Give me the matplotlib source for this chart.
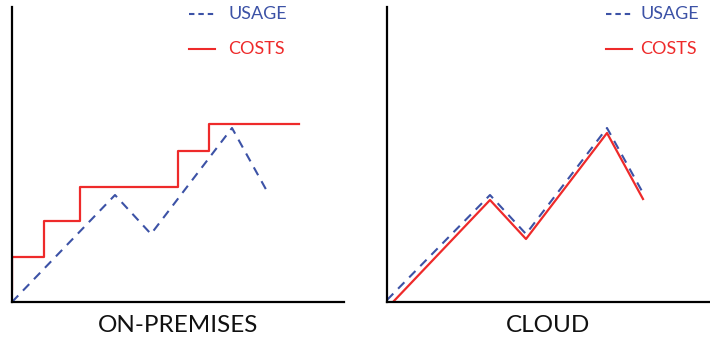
import matplotlib.pyplot as plt
from matplotlib.lines import Line2D

plt.rcParams['font.family'] = ['Lato', 'DejaVu Sans']

BLUE = '#3c52a6'
RED = '#ee2a2a'

# usage curve (same shape in both panels)
usage_x = [0, 103, 139, 220, 256]
usage_y = [0, 107, 68, 174, 109]

# on-premises costs: step function
onprem_cost_x = [0, 0, 32, 32, 68, 68, 166, 166, 197, 197, 287]
onprem_cost_y = [13, 45, 45, 81, 81, 115, 115, 151, 151, 178, 178]

# cloud costs follow usage
cloud_usage_x = [0, 103, 139, 220, 256]
cloud_usage_y = [2, 107, 68, 174, 109]
cloud_cost_x = [6, 103, 139, 220, 256]
cloud_cost_y = [0, 102, 63, 169, 103]

titles = ['ON-PREMISES', 'CLOUD']

fig = plt.figure(figsize=(7.1, 3.38), dpi=100)
W, H = 710, 338
ax1 = fig.add_axes([12 / W, 36 / H, 332 / W, 295 / H])
ax2 = fig.add_axes([387 / W, 36 / H, 322 / W, 295 / H])

dash = (0, (4.3, 3.3))
ax1.plot(usage_x, usage_y, color=BLUE, lw=1.5, linestyle=dash)
ax1.plot(onprem_cost_x, onprem_cost_y, color=RED, lw=1.6)
ax1.set_xlim(0, 332)

ax2.plot(cloud_usage_x, cloud_usage_y, color=BLUE, lw=1.5, linestyle=dash)
ax2.plot(cloud_cost_x, cloud_cost_y, color=RED, lw=1.6)
ax2.set_xlim(0, 322)

for ax, title in zip([ax1, ax2], titles):
    ax.set_ylim(0, 295)
    ax.set_xticks([])
    ax.set_yticks([])
    for s in ['top', 'right']:
        ax.spines[s].set_visible(False)
    for s in ['left', 'bottom']:
        ax.spines[s].set_linewidth(1.6)
        ax.spines[s].set_color('black')
    ax.set_xlabel(title, fontsize=17.5, labelpad=9, color='#111111')

# legend entries drawn in figure pixel coordinates
def legend(x0, text_x):
    for y, col, ls, label in [(324, BLUE, (0, (2.6, 1.9)), 'USAGE'),
                              (289, RED, '-', 'COSTS')]:
        fig.add_artist(Line2D([x0 / W, (x0 + 26) / W], [y / H, y / H],
                              color=col, lw=1.5, linestyle=ls))
        fig.text(text_x / W, y / H, label, color=col, fontsize=13,
                 va='center', ha='left')

legend(189, 228)
legend(606, 640)

fig.savefig('out.png', dpi=100)
